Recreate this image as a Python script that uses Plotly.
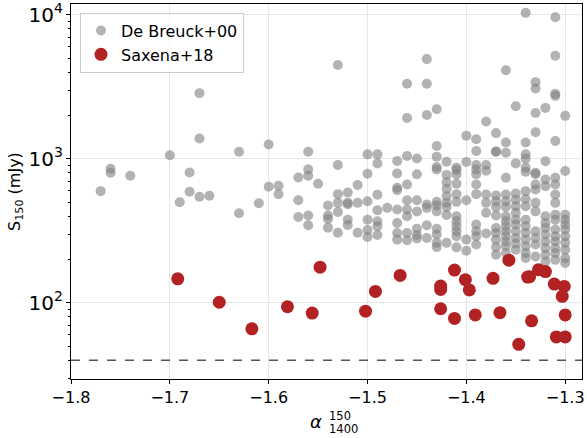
import plotly.graph_objects as go
import math

# ---------------- data ----------------
# De Breuck+00 sample: spectral index columns and S150 values (mJy)
debreuck_alpha_cols = [
    -1.77, -1.76, -1.74, -1.70, -1.69, -1.68, -1.67, -1.66, -1.63, -1.61,
    -1.60, -1.59, -1.57, -1.56, -1.55, -1.54, -1.53, -1.52, -1.51, -1.50,
    -1.49, -1.48, -1.47, -1.46, -1.45, -1.44, -1.43, -1.42, -1.41, -1.40,
    -1.39, -1.38, -1.37, -1.36, -1.35, -1.34, -1.33, -1.32, -1.31, -1.30,
]
debreuck_s150_cols = [
    [597],
    [855, 800],
    [764],
    [1060],
    [500],
    [805, 591],
    [2860, 1385, 545],
    [555],
    [1120, 419],
    [492],
    [1260, 640],
    [650, 569],
    [743, 516, 395],
    [1120, 845, 764, 404, 346],
    [671],
    [474, 404, 382, 333],
    [4490, 906, 569, 495, 428, 307],
    [584, 495, 485, 378, 347],
    [658, 495, 307],
    [1075, 789, 508, 378, 321, 287],
    [1075, 930, 563, 440, 369, 340, 296],
    [457],
    [966, 793, 630, 607, 445, 359, 306, 275],
    [3320, 1923, 1048, 664, 516, 445, 399, 306, 272],
    [1007, 783, 516, 431, 327, 296, 280],
    [4930, 3320, 2017, 482, 457, 346, 282],
    [2213, 1228, 1036, 877, 845, 503, 474, 432, 327, 298, 261, 244],
    [955, 774, 689, 620, 551, 495, 464, 408, 261],
    [869, 836, 779, 671, 569, 503, 399, 369, 340, 314, 290, 243],
    [1450, 950, 516, 275, 230],
    [1370, 1133, 906, 845, 783, 664, 569, 350, 314, 290, 254],
    [1820, 906, 828, 566, 495, 422, 303],
    [1510, 1127, 1120, 557, 508, 464, 404, 331, 306, 275, 244, 216],
    [4120, 1300, 1104, 740, 566, 508, 464, 399, 369, 340, 314, 290, 267, 247, 222],
    [2320, 930, 575, 521, 469, 422, 378, 350, 314, 282, 258, 234],
    [10330, 1300, 1075, 1002, 869, 815, 597, 526, 469, 378, 340, 306, 275, 247, 222, 205],
    [3410, 3080, 2080, 1530, 802, 783, 664, 612, 495, 432, 314, 282, 254, 210],
    [2260, 962, 719, 646, 399, 359, 331, 298, 267, 240, 216, 194],
    [9640, 5210, 2830, 2740, 1330, 740, 664, 566, 495, 410, 378, 323, 290, 267, 240, 222, 199],
    [1990, 823, 410, 378, 350, 323, 290, 261, 234, 205, 189],
]

# Saxena+18 sample
saxena_alpha = [
    -1.692, -1.650, -1.617, -1.581, -1.556, -1.548, -1.502, -1.492, -1.467,
    -1.426, -1.426, -1.426, -1.412, -1.412, -1.401, -1.397, -1.391, -1.373,
    -1.366, -1.357, -1.347, -1.338, -1.336, -1.334, -1.327, -1.320, -1.311,
    -1.309, -1.301, -1.303, -1.300, -1.300,
]
saxena_s150 = [
    147, 101, 66, 94, 85, 177, 87.5, 120, 155,
    131, 124, 91, 169, 78, 145, 123, 82.5, 148,
    85.5, 198, 51.5, 151, 152, 75, 170, 165, 135,
    58, 130, 111, 82.5, 58,
]

flux_limit = 40  # mJy

x_range = [-1.8, -1.283]
y_range_mjy = [29.6, 11900]

# flatten De Breuck columns
db_x, db_y = [], []
for a, col in zip(debreuck_alpha_cols, debreuck_s150_cols):
    for s in col:
        db_x.append(a)
        db_y.append(s)

FONT = "DejaVu Sans"

fig = go.Figure()
fig.add_trace(go.Scatter(
    x=db_x, y=db_y, mode="markers", name="De Breuck+00",
    marker=dict(size=10, color="rgb(128,128,128)", opacity=0.6, line=dict(width=0)),
))
fig.add_trace(go.Scatter(
    x=saxena_alpha, y=saxena_s150, mode="markers", name="Saxena+18",
    marker=dict(size=13, color="#b22222", line=dict(width=0)),
))
fig.add_hline(y=flux_limit, line=dict(color="#555555", width=1.5, dash="dash"))

fig.update_layout(
    width=587, height=438,
    margin=dict(l=71, r=5, t=4, b=59, autoexpand=False),
    plot_bgcolor="white", paper_bgcolor="white",
    font=dict(family=FONT, size=16, color="black"),
    showlegend=True,
    legend=dict(
        x=0.0176, y=0.977, xanchor="left", yanchor="top",
        bgcolor="rgba(255,255,255,0.8)", bordercolor="#cccccc", borderwidth=1,
        font=dict(family=FONT, size=16), itemsizing="trace",
        tracegroupgap=0, itemwidth=30,
    ),
)
fig.update_xaxes(
    range=x_range, tickvals=[-1.8, -1.7, -1.6, -1.5, -1.4, -1.3],
    ticktext=["\u22121.8", "\u22121.7", "\u22121.6", "\u22121.5", "\u22121.4", "\u22121.3"],
    showline=True, linecolor="black", linewidth=1, mirror=True,
    ticks="outside", ticklen=4, tickwidth=1, tickcolor="black",
    showgrid=True, gridcolor="#e6e6e6", gridwidth=1, zeroline=False,
    tickfont=dict(size=16), automargin=False,
)
fig.update_yaxes(
    type="log", range=[math.log10(y_range_mjy[0]), math.log10(y_range_mjy[1])],
    dtick=1, exponentformat="power",
    showline=True, linecolor="black", linewidth=1, mirror=True,
    ticks="outside", ticklen=4, tickwidth=1, tickcolor="black",
    showgrid=True, gridcolor="#e6e6e6", gridwidth=1, zeroline=False,
    tickfont=dict(size=16), automargin=False,
    minor=dict(ticks="outside", ticklen=2.5, tickcolor="black", showgrid=False, dtick="D1"),
)

# axis titles
fig.add_annotation(xref="paper", yref="paper", x=-0.1076, y=0.4987,
                   text="S<sub>150</sub> (mJy)", textangle=-90, showarrow=False,
                   font=dict(size=16, family=FONT), xanchor="center", yanchor="middle")
fig.add_annotation(xref="paper", yref="paper", x=(316 - 71) / 511, y=(379 - 421) / 375,
                   text="<i>α</i>", showarrow=False, font=dict(size=18, family=FONT),
                   xanchor="center", yanchor="middle")
fig.add_annotation(xref="paper", yref="paper", x=(327 - 71) / 511, y=(379 - 415.5) / 375,
                   text="150", showarrow=False, font=dict(size=11.5, family=FONT),
                   xanchor="left", yanchor="middle")
fig.add_annotation(xref="paper", yref="paper", x=(327 - 71) / 511, y=(379 - 428.5) / 375,
                   text="1400", showarrow=False, font=dict(size=11.5, family=FONT),
                   xanchor="left", yanchor="middle")

fig.write_html("out.html", config={"displayModeBar": False},
               post_script="document.body.style.margin='0px';document.body.style.overflow='hidden';")
